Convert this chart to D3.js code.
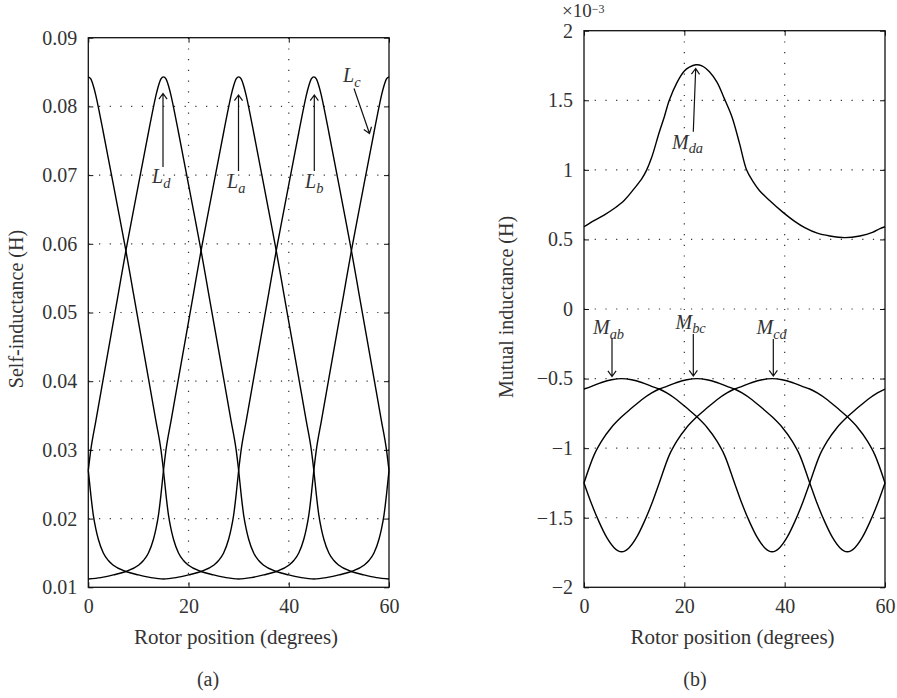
<!DOCTYPE html>
<html>
<head>
<meta charset="utf-8">
<script src="https://cdnjs.cloudflare.com/ajax/libs/d3/7.8.5/d3.min.js"></script>
<style>
  body { margin: 0; background: #fff; }
  text { font-family: "Liberation Serif", "DejaVu Serif", serif; fill: #333; }
  .tick text { font-size: 20px; }
  .tick line { stroke: #111; }
</style>
</head>
<body>
<div id="chart"></div>
<script>

// Self-inductance shape: distance from the peak (deg) and L (H)
var selfDist = [0, 0.5, 1, 1.5, 2, 3, 4, 5, 6, 7.5, 9, 10.5, 12, 13.5, 14.5, 15,
                15.5, 16, 16.5, 17, 18, 19, 20, 22.5, 25, 27.5, 30];
var selfVal  = [0.0843, 0.0840, 0.0830, 0.0816, 0.0799, 0.0762, 0.0724, 0.0686, 0.0648, 0.0590,
                0.0528, 0.0466, 0.0404, 0.0342, 0.0300, 0.0270,
                0.0235, 0.0205, 0.0185, 0.0170, 0.0150, 0.0139, 0.0132, 0.0123, 0.0118, 0.0114, 0.0112];
var selfNames = ["La", "Lb", "Lc", "Ld"];
var selfPeaks = [30, 45, 0, 15];

// Mutual inductance (negative ones): distance from the peak (deg), M (x 1e-3 H)
var mutDist = [0, 2, 4, 6, 7.5, 9, 11, 13, 15, 17, 19, 20.5, 22.5, 24, 25.5, 27, 28.5, 30];
var mutVal  = [-0.500, -0.508, -0.528, -0.556, -0.575, -0.603, -0.652, -0.712, -0.775, -0.850,
               -0.950, -1.050, -1.250, -1.400, -1.530, -1.640, -1.715, -1.745];
var mutNames = ["Mab", "Mbc", "Mcd"];
var mutPeaks = [7.5, 22.5, 37.5];

// M_da
var mdaAngle = [0, 2, 4, 6, 8, 10, 11.5, 12.5, 13.5, 15, 16, 17, 18.5, 20, 21, 22.3, 23.5, 25,
                26.5, 28, 29.5, 31, 32.4, 33.7, 35, 37, 39.5, 42, 44, 46.5, 49, 52, 55, 57.5, 59, 60];
var mdaVal   = [0.591, 0.635, 0.675, 0.722, 0.780, 0.865, 0.935, 1.0, 1.09, 1.27, 1.38, 1.5, 1.625,
                1.71, 1.738, 1.755, 1.748, 1.705, 1.63, 1.51, 1.38, 1.19, 1.0, 0.915, 0.85, 0.78,
                0.70, 0.63, 0.585, 0.545, 0.525, 0.513, 0.525, 0.55, 0.578, 0.591];

var xTicks = [0, 20, 40, 60];
var selfTicks = [0.01, 0.02, 0.03, 0.04, 0.05, 0.06, 0.07, 0.08, 0.09];
var selfTickLabels = ["0.01", "0.02", "0.03", "0.04", "0.05", "0.06", "0.07", "0.08", "0.09"];
var mutTicks = [-2, -1.5, -1, -0.5, 0, 0.5, 1, 1.5, 2];
var mutTickLabels = ["\u22122", "\u22121.5", "\u22121", "\u22120.5", "0", "0.5", "1", "1.5", "2"];

var width = 897, height = 698;

var svg = d3.select("#chart").append("svg")
  .attr("width", width)
  .attr("height", height);

// build a curve from a peak-centred shape, wrapped into 0..60 deg
function shifted(peak, dist, val) {
  var pts = [];
  dist.forEach(function(d, i) {
    [peak - d, peak + d].forEach(function(x) {
      if (x < 0) x += 60;
      if (x > 60) x -= 60;
      pts.push([x, val[i]]);
      if (x === 0) pts.push([60, val[i]]);
      if (x === 60) pts.push([0, val[i]]);
    });
  });
  pts.sort(function(a, b) { return a[0] - b[0]; });
  return pts.filter(function(p, i) { return i === 0 || p[0] !== pts[i - 1][0]; });
}

function panel(box, yDomain, yTicks, yLabels) {
  var p = {};
  p.x = d3.scaleLinear().domain([0, 60]).range([box.left, box.right]);
  p.y = d3.scaleLinear().domain(yDomain).range([box.bottom, box.top]);
  p.g = svg.append("g");

  // dotted grid
  p.g.append("g").selectAll("line").data(xTicks.slice(1, -1)).enter().append("line")
    .attr("x1", p.x).attr("x2", p.x).attr("y1", box.top).attr("y2", box.bottom)
    .attr("stroke", "#333").attr("stroke-width", 1.2).attr("stroke-dasharray", "1.2,9.5");
  p.g.append("g").selectAll("line").data(yTicks.slice(1, -1)).enter().append("line")
    .attr("y1", p.y).attr("y2", p.y).attr("x1", box.left).attr("x2", box.right)
    .attr("stroke", "#333").attr("stroke-width", 1.2).attr("stroke-dasharray", "1.2,9.5");

  // axes, ticks pointing inward
  var left = d3.axisLeft(p.y).tickValues(yTicks).tickSize(-5).tickPadding(11)
    .tickFormat(function(d, i) { return yLabels[i]; });
  var bottom = d3.axisBottom(p.x).tickValues(xTicks).tickSize(-5).tickPadding(12);
  var right = d3.axisRight(p.y).tickValues(yTicks).tickSize(-5).tickFormat("");
  var top = d3.axisTop(p.x).tickValues(xTicks).tickSize(-5).tickFormat("");

  p.g.append("g").attr("transform", "translate(" + box.left + ",0)").call(left);
  p.g.append("g").attr("transform", "translate(0," + box.bottom + ")").call(bottom);
  p.g.append("g").attr("transform", "translate(" + box.right + ",0)").call(right);
  p.g.append("g").attr("transform", "translate(0," + box.top + ")").call(top);
  p.g.selectAll(".domain").remove();
  p.g.selectAll(".tick text").attr("fill", "#333").style("font-family", "'Liberation Serif', serif");

  p.g.append("rect")
    .attr("x", box.left).attr("y", box.top)
    .attr("width", box.right - box.left).attr("height", box.bottom - box.top)
    .attr("fill", "none").attr("stroke", "#111").attr("stroke-width", 1.3);

  p.line = d3.line()
    .x(function(d) { return p.x(d[0]); })
    .y(function(d) { return p.y(d[1]); })
    .curve(d3.curveMonotoneX);
  return p;
}

function arrow(g, x1, y1, x2, y2) {
  var a = Math.atan2(y2 - y1, x2 - x1), len = 7, w = 0.62;
  g.append("path")
    .attr("d", "M" + x1 + "," + y1 + "L" + x2 + "," + y2 +
      "M" + (x2 - len * Math.cos(a - w)) + "," + (y2 - len * Math.sin(a - w)) +
      "L" + x2 + "," + y2 +
      "L" + (x2 - len * Math.cos(a + w)) + "," + (y2 - len * Math.sin(a + w)))
    .attr("fill", "none").attr("stroke", "#111").attr("stroke-width", 1.2);
}

function label(g, x, y, main, sub, size) {
  var t = g.append("text").attr("x", x).attr("y", y)
    .style("font-size", size + "px").style("font-style", "italic");
  t.append("tspan").text(main);
  t.append("tspan").attr("dy", 4.5).style("font-size", (size * 0.72) + "px").text(sub);
}

// ---- (a) self-inductance ----
var pa = panel({left: 88.3, right: 389, top: 37.7, bottom: 587.3}, [0.01, 0.09], selfTicks, selfTickLabels);

pa.g.append("g").selectAll("path").data(selfPeaks).enter().append("path")
  .attr("d", function(pk) { return pa.line(shifted(pk, selfDist, selfVal)); })
  .attr("fill", "none").attr("stroke", "#000").attr("stroke-width", 1.4);

arrow(pa.g, 163, 167, 163, 93.5);
arrow(pa.g, 238.5, 171, 238.5, 95);
arrow(pa.g, 314.3, 171, 314.3, 95);
arrow(pa.g, 354, 88.5, 369.5, 133.5);
label(pa.g, 152, 183, "L", "d", 20);
label(pa.g, 227, 188, "L", "a", 20);
label(pa.g, 305, 188, "L", "b", 20);
label(pa.g, 343, 82, "L", "c", 20);

svg.append("text").attr("x", 236).attr("y", 644).attr("text-anchor", "middle")
  .style("font-size", "21px").text("Rotor position (degrees)");
svg.append("text").attr("transform", "translate(23,309) rotate(-90)").attr("text-anchor", "middle")
  .style("font-size", "20px").text("Self-inductance (H)");
svg.append("text").attr("x", 208).attr("y", 686).attr("text-anchor", "middle")
  .style("font-size", "20px").text("(a)");

// ---- (b) mutual inductance ----
var pb = panel({left: 584, right: 885, top: 30.7, bottom: 587.3}, [-2, 2], mutTicks, mutTickLabels);

pb.g.append("g").selectAll("path").data(mutPeaks).enter().append("path")
  .attr("d", function(pk) { return pb.line(shifted(pk, mutDist, mutVal)); })
  .attr("fill", "none").attr("stroke", "#000").attr("stroke-width", 1.4);

var mdaLine = d3.line()
  .x(function(d) { return pb.x(d[0]); })
  .y(function(d) { return pb.y(d[1]); })
  .curve(d3.curveCatmullRom.alpha(0.5));
pb.g.append("path")
  .attr("d", mdaLine(mdaAngle.map(function(a, i) { return [a, mdaVal[i]]; })))
  .attr("fill", "none").attr("stroke", "#000").attr("stroke-width", 1.4);

arrow(pb.g, 693.3, 131.7, 695.7, 68.5);
arrow(pb.g, 612, 339, 612, 376.5);
arrow(pb.g, 693.3, 334, 693.3, 376);
arrow(pb.g, 773.3, 339, 773.3, 376);
label(pb.g, 672, 148.5, "M", "da", 20);
label(pb.g, 593, 334, "M", "ab", 20);
label(pb.g, 675.5, 328.5, "M", "bc", 20);
label(pb.g, 756.5, 334, "M", "cd", 20);

var sc = svg.append("text").attr("x", 562).attr("y", 16.5).style("font-size", "19px");
sc.append("tspan").text("\u00d710");
sc.append("tspan").attr("dy", -4).style("font-size", "12px").text("\u22123");

svg.append("text").attr("x", 732.5).attr("y", 644).attr("text-anchor", "middle")
  .style("font-size", "21px").text("Rotor position (degrees)");
svg.append("text").attr("transform", "translate(513,307) rotate(-90)").attr("text-anchor", "middle")
  .style("font-size", "20px").text("Mutual inductance (H)");
svg.append("text").attr("x", 695).attr("y", 686).attr("text-anchor", "middle")
  .style("font-size", "20px").text("(b)");

</script>
</body>
</html>
